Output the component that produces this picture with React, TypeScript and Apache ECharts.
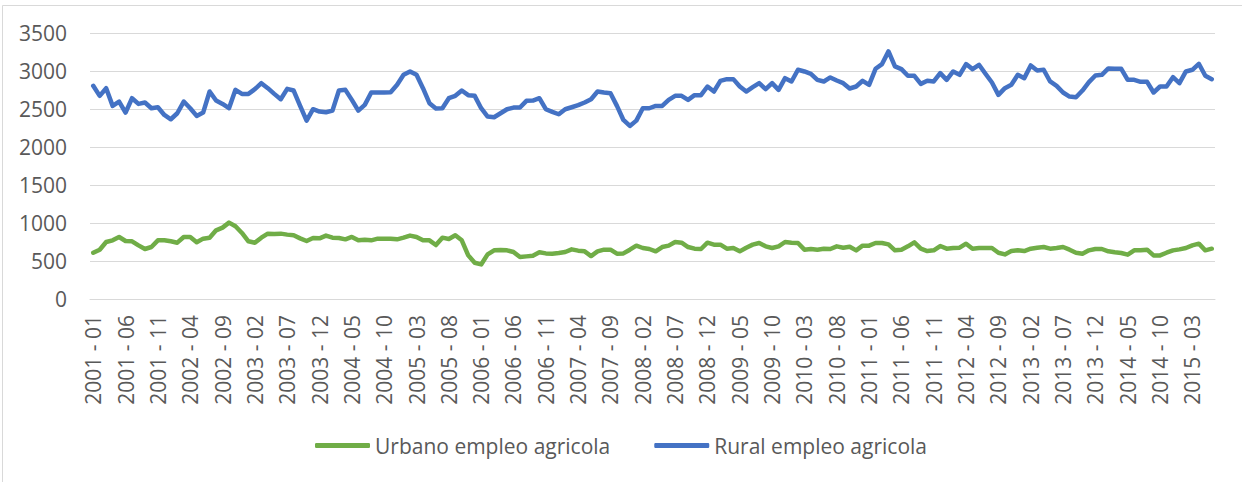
import React, { useEffect, useRef } from "react";
import * as echarts from "echarts";

// Monthly categories 2001-01 .. 2015-06 (174 months)
const startYear = 2001;
const monthCount = 174;
const categories: string[] = [];
for (let k = 0; k < monthCount; k++) {
  const y = startYear + Math.floor(k / 12);
  const m = (k % 12) + 1;
  categories.push(`${y} - ${m < 10 ? "0" + m : m}`);
}

const yTicks = [0, 500, 1000, 1500, 2000, 2500, 3000, 3500];

const urbanoName = "Urbano empleo agricola";
const ruralName = "Rural empleo agricola";

const urbano = [
  609, 649, 750, 772, 816, 763, 759, 706, 658, 684,
  772, 772, 759, 741, 816, 816, 746, 794, 807, 904,
  939, 1005, 957, 869, 759, 741, 807, 860, 856, 860,
  847, 838, 798, 763, 803, 798, 834, 807, 803, 785,
  816, 772, 781, 772, 794, 794, 794, 785, 807, 834,
  816, 772, 772, 710, 807, 790, 838, 772, 574, 477,
  455, 587, 640, 644, 640, 618, 552, 561, 570, 614,
  600, 596, 605, 618, 653, 636, 627, 565, 627, 649,
  649, 596, 600, 649, 702, 671, 658, 627, 684, 702,
  750, 741, 684, 662, 658, 741, 715, 715, 662, 671,
  627, 675, 715, 737, 693, 671, 693, 750, 741, 737,
  649, 658, 649, 662, 658, 693, 675, 688, 640, 702,
  702, 737, 737, 719, 640, 649, 693, 746, 662, 631,
  640, 697, 662, 671, 675, 728, 662, 671, 671, 671,
  609, 587, 631, 640, 631, 662, 675, 684, 662, 671,
  684, 649, 609, 596, 640, 658, 658, 627, 614, 605,
  583, 640, 640, 649, 574, 574, 609, 640, 653, 671,
  706, 728, 640, 662,
];

const rural = [
  2805, 2673, 2774, 2541, 2598, 2453, 2642, 2567, 2585, 2510,
  2523, 2422, 2365, 2444, 2598, 2510, 2409, 2453, 2730, 2611,
  2567, 2510, 2752, 2699, 2699, 2761, 2840, 2774, 2699, 2629,
  2765, 2743, 2541, 2347, 2497, 2466, 2457, 2479, 2743, 2752,
  2620, 2479, 2554, 2717, 2717, 2717, 2721, 2818, 2950, 2994,
  2950, 2774, 2576, 2506, 2510, 2642, 2673, 2743, 2682, 2673,
  2510, 2400, 2391, 2444, 2497, 2519, 2519, 2607, 2611, 2642,
  2497, 2462, 2431, 2497, 2523, 2550, 2585, 2629, 2730, 2717,
  2708, 2541, 2356, 2277, 2347, 2510, 2510, 2541, 2541, 2620,
  2673, 2673, 2620, 2682, 2682, 2796, 2730, 2871, 2893, 2893,
  2796, 2730, 2787, 2840, 2761, 2840, 2752, 2906, 2862, 3016,
  2994, 2963, 2884, 2862, 2915, 2875, 2840, 2770, 2796, 2871,
  2818, 3029, 3091, 3258, 3060, 3025, 2937, 2937, 2831, 2871,
  2862, 2972, 2884, 2994, 2950, 3091, 3025, 3082, 2963, 2849,
  2686, 2774, 2818, 2950, 2906, 3073, 3007, 3016, 2862, 2805,
  2717, 2664, 2655, 2743, 2853, 2941, 2950, 3034, 3029, 3029,
  2884, 2884, 2858, 2858, 2717, 2796, 2796, 2919, 2840, 2994,
  3016, 3095, 2937, 2893,
];

const GREEN = "#70AD47";
const BLUE = "#4472C4";
const GRID = "#D9D9D9";
const TEXT = "#595959";
const FONT = "Open Sans";

export default function App() {
  const ref = useRef<HTMLDivElement>(null);

  useEffect(() => {
    document.body.style.margin = "0";
    if (!ref.current) return;
    const chart = echarts.init(ref.current, undefined, { renderer: "svg" });
    chart.setOption({
      animation: false,
      backgroundColor: "#FFFFFF",
      textStyle: { fontFamily: FONT },
      graphic: [
        {
          type: "rect",
          shape: { x: 2.5, y: 5.5, width: 1400, height: 700 },
          style: { fill: "none", stroke: GRID, lineWidth: 1 },
          silent: true,
          z: -1,
        },
      ],
      grid: { left: 90, right: 27, top: 33, bottom: 183, containLabel: false },
      legend: {
        data: [urbanoName, ruralName],
        left: "center",
        top: 430,
        icon: "roundRect",
        itemWidth: 55,
        itemHeight: 5,
        itemGap: 44,
        textStyle: { color: TEXT, fontSize: 21, fontFamily: FONT },
      },
      xAxis: {
        type: "category",
        data: categories,
        boundaryGap: true,
        axisLine: { show: true, lineStyle: { color: GRID, width: 1 } },
        axisTick: { show: false },
        splitLine: { show: false },
        axisLabel: {
          rotate: 90,
          interval: 4,
          margin: 16,
          color: TEXT,
          fontSize: 21,
          fontFamily: FONT,
        },
      },
      yAxis: {
        type: "value",
        min: yTicks[0],
        max: yTicks[yTicks.length - 1],
        interval: 500,
        axisLine: { show: false },
        axisTick: { show: false },
        splitLine: { show: true, lineStyle: { color: GRID, width: 1 } },
        axisLabel: {
          color: TEXT,
          fontSize: 21,
          margin: 23,
          fontFamily: FONT,
          formatter: (v: number) => String(v),
        },
      },
      series: [
        {
          name: urbanoName,
          type: "line",
          data: urbano,
          symbol: "none",
          color: GREEN,
          lineStyle: { color: GREEN, width: 4.5, cap: "round", join: "round" },
        },
        {
          name: ruralName,
          type: "line",
          data: rural,
          symbol: "none",
          color: BLUE,
          lineStyle: { color: BLUE, width: 4.5, cap: "round", join: "round" },
        },
      ],
    });
    return () => chart.dispose();
  }, []);

  return <div ref={ref} style={{ width: 1242, height: 482 }} />;
}
